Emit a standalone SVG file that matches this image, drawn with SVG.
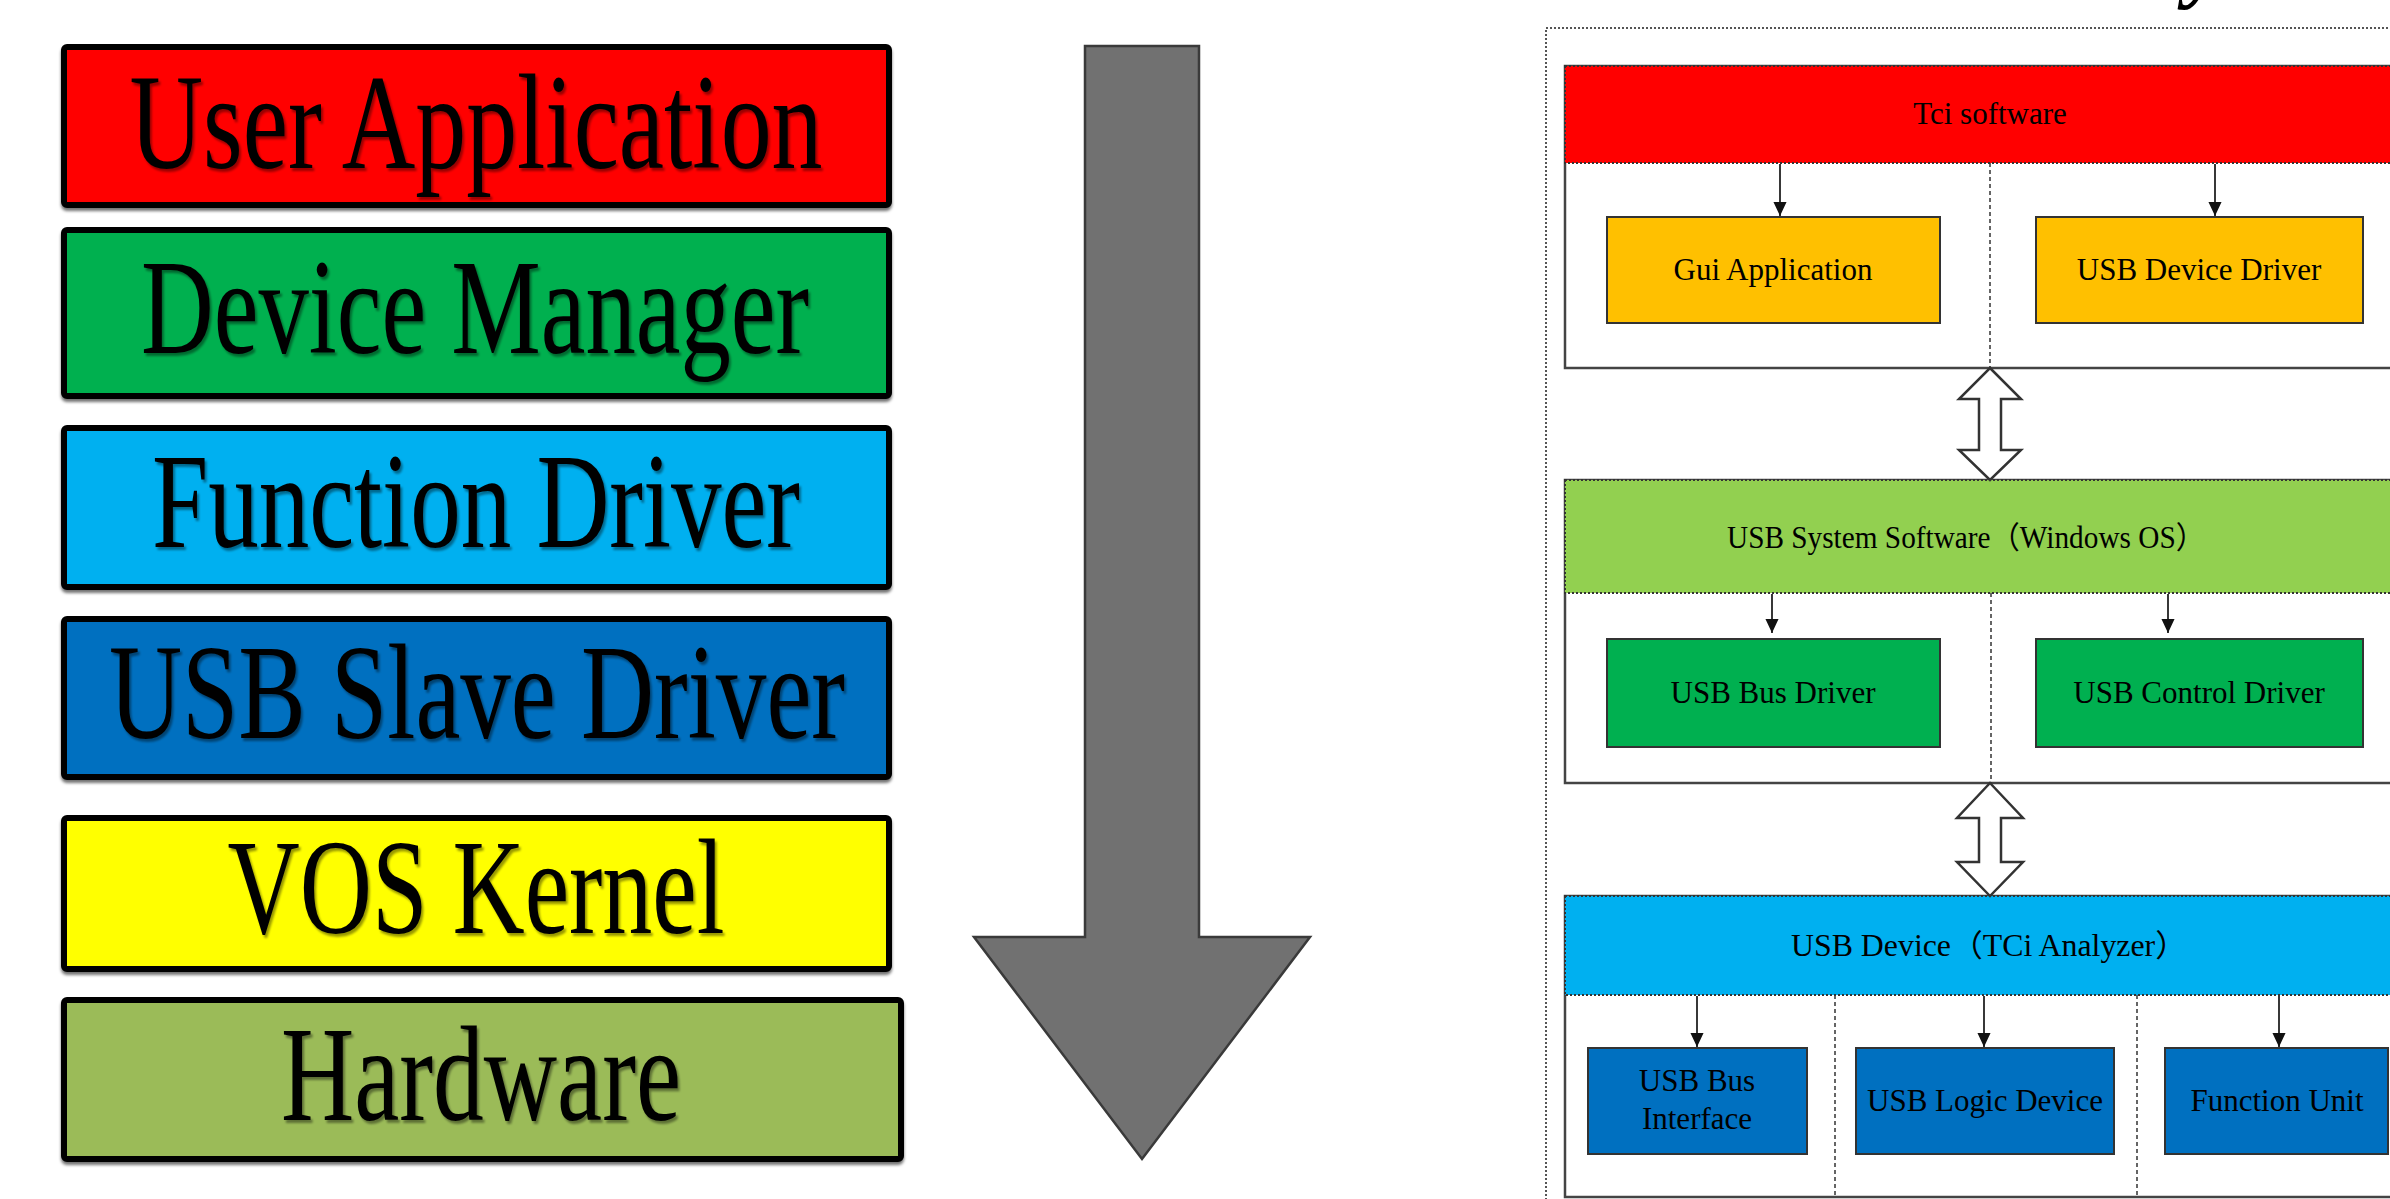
<svg xmlns="http://www.w3.org/2000/svg" width="2390" height="1199" viewBox="0 0 2390 1199">
  <style>
    .layer rect { stroke: #000; stroke-width: 6; }
    .layer text { font-family: "Liberation Serif", "Times New Roman", serif; font-size: 136px; fill: #000; text-anchor: middle; }
    .band { stroke: #333; stroke-width: 2; stroke-dasharray: 2 2; }
    .frame { fill: #fff; stroke: #444; stroke-width: 2.5; }
    .box { stroke: #333; stroke-width: 2; }
    .lbl { font-family: "Liberation Serif", "Noto Sans CJK SC", serif; font-size: 31px; fill: #000; text-anchor: middle; }
    .lbl.start { text-anchor: start; }
    .divider { stroke: #333; stroke-width: 1.5; stroke-dasharray: 4 3; fill: none; }
    .link { stroke: #222; stroke-width: 1.8; fill: none; marker-end: url(#head); }
    .dbl { fill: #fff; stroke: #333; stroke-width: 2.5; stroke-linejoin: miter; }
  </style>
  <defs>
    <marker id="head" markerUnits="userSpaceOnUse" markerWidth="14" markerHeight="16" refX="15" refY="7" orient="auto" viewBox="0 0 15 14">
      <path d="M0,0 L15,7 L0,14 z" fill="#111"/>
    </marker>
    <filter id="boxShadow" x="-5%" y="-10%" width="110%" height="125%">
      <feDropShadow dx="0" dy="3" stdDeviation="1.5" flood-color="#000" flood-opacity="0.55"/>
    </filter>
    <filter id="textShadow" x="-5%" y="-10%" width="110%" height="130%">
      <feDropShadow dx="2" dy="3" stdDeviation="1.2" flood-color="#000" flood-opacity="0.4"/>
    </filter>
  </defs>

  <rect width="2390" height="1199" fill="#fff"/>

  <!-- left: software stack -->
  <g id="user-application" class="layer">
    <rect x="64" y="47" width="825" height="158" rx="3" fill="#ff0000" filter="url(#boxShadow)"/>
    <text x="476" y="168" textLength="693" lengthAdjust="spacingAndGlyphs" filter="url(#textShadow)">User Application</text>
  </g>
  <g id="device-manager" class="layer">
    <rect x="64" y="230" width="825" height="166" rx="3" fill="#00b050" filter="url(#boxShadow)"/>
    <text x="475" y="353" textLength="668" lengthAdjust="spacingAndGlyphs" filter="url(#textShadow)">Device Manager</text>
  </g>
  <g id="function-driver" class="layer">
    <rect x="64" y="428" width="825" height="159" rx="3" fill="#00b0f0" filter="url(#boxShadow)"/>
    <text x="476" y="547" textLength="648" lengthAdjust="spacingAndGlyphs" filter="url(#textShadow)">Function Driver</text>
  </g>
  <g id="usb-slave-driver" class="layer">
    <rect x="64" y="619" width="825" height="158" rx="3" fill="#0070c0" filter="url(#boxShadow)"/>
    <text x="477" y="738" textLength="736" lengthAdjust="spacingAndGlyphs" filter="url(#textShadow)">USB Slave Driver</text>
  </g>
  <g id="vos-kernel" class="layer">
    <rect x="64" y="818" width="825" height="151" rx="3" fill="#ffff00" filter="url(#boxShadow)"/>
    <text x="476" y="933" textLength="497" lengthAdjust="spacingAndGlyphs" filter="url(#textShadow)">VOS Kernel</text>
  </g>
  <g id="hardware" class="layer">
    <rect x="64" y="1000" width="837" height="159" rx="3" fill="#9bbb59" filter="url(#boxShadow)"/>
    <text x="481" y="1120" textLength="400" lengthAdjust="spacingAndGlyphs" filter="url(#textShadow)">Hardware</text>
  </g>

  <!-- big downward arrow -->
  <g id="flow-arrow">
    <polygon points="1085,46 1199,46 1199,937 1310,937 1142,1159 974,937 1085,937" fill="#717171" stroke="#3a3a3a" stroke-width="2.5"/>
  </g>

  <!-- right: USB system layers -->
  <text x="2186" y="-8" font-family="Liberation Serif, serif" font-size="84" font-style="italic" font-weight="bold" fill="#000">y</text>
  <rect id="outer-frame" x="1546" y="28" width="900" height="1200" fill="none" stroke="#555" stroke-width="2" stroke-dasharray="2 2"/>

  <g id="tci-layer">
    <rect class="frame" x="1565" y="66" width="850" height="302"/>
    <rect class="band" x="1565" y="66" width="850" height="97" fill="#ff0000"/>
    <text class="lbl" x="1990" y="124">Tci software</text>
  </g>
  <g id="gui-application">
    <rect class="box" x="1607" y="217" width="333" height="106" fill="#ffc000"/>
    <text class="lbl" x="1773" y="280">Gui Application</text>
  </g>
  <g id="usb-device-driver">
    <rect class="box" x="2036" y="217" width="327" height="106" fill="#ffc000"/>
    <text class="lbl" x="2199" y="280">USB Device Driver</text>
  </g>

  <g id="system-layer">
    <rect class="frame" x="1565" y="480" width="850" height="303"/>
    <rect class="band" x="1565" y="480" width="850" height="113" fill="#92d050"/>
    <text class="lbl start" x="1727" y="548" textLength="478" lengthAdjust="spacingAndGlyphs">USB System Software（Windows OS）</text>
  </g>
  <g id="usb-bus-driver">
    <rect class="box" x="1607" y="639" width="333" height="108" fill="#00b050"/>
    <text class="lbl" x="1773" y="703">USB Bus Driver</text>
  </g>
  <g id="usb-control-driver">
    <rect class="box" x="2036" y="639" width="327" height="108" fill="#00b050"/>
    <text class="lbl" x="2199" y="703">USB Control Driver</text>
  </g>

  <g id="device-layer">
    <rect class="frame" x="1565" y="896" width="850" height="301"/>
    <rect class="band" x="1565" y="896" width="850" height="99" fill="#00b0f0"/>
    <text class="lbl start" x="1791" y="956" textLength="396" lengthAdjust="spacingAndGlyphs">USB Device（TCi Analyzer）</text>
  </g>
  <g id="usb-bus-interface">
    <rect class="box" x="1588" y="1048" width="219" height="106" fill="#0070c0"/>
    <text class="lbl" x="1697" y="1091">USB Bus</text>
    <text class="lbl" x="1697" y="1129">Interface</text>
  </g>
  <g id="usb-logic-device">
    <rect class="box" x="1856" y="1048" width="258" height="106" fill="#0070c0"/>
    <text class="lbl" x="1985" y="1111">USB Logic Device</text>
  </g>
  <g id="function-unit">
    <rect class="box" x="2165" y="1048" width="223" height="106" fill="#0070c0"/>
    <text class="lbl" x="2277" y="1111">Function Unit</text>
  </g>

  <!-- connectors -->
  <g id="connectors">
    <line class="divider" x1="1990" y1="163" x2="1990" y2="368"/>
    <line class="divider" x1="1991" y1="593" x2="1991" y2="783"/>
    <line class="divider" x1="1835" y1="995" x2="1835" y2="1197"/>
    <line class="divider" x1="2137" y1="995" x2="2137" y2="1197"/>

    <line class="link" x1="1780" y1="164" x2="1780" y2="216"/>
    <line class="link" x1="2215" y1="164" x2="2215" y2="216"/>
    <line class="link" x1="1772" y1="594" x2="1772" y2="633"/>
    <line class="link" x1="2168" y1="594" x2="2168" y2="633"/>
    <line class="link" x1="1697" y1="996" x2="1697" y2="1047"/>
    <line class="link" x1="1984" y1="996" x2="1984" y2="1047"/>
    <line class="link" x1="2279" y1="996" x2="2279" y2="1047"/>

    <polygon class="dbl" points="1990,368 2021,399 2001,399 2001,450 2021,450 1990,480 1959,450 1979,450 1979,399 1959,399"/>
    <polygon class="dbl" points="1990,783 2023,818 2001,818 2001,862 2023,862 1990,896 1957,862 1979,862 1979,818 1957,818"/>
  </g>
</svg>
